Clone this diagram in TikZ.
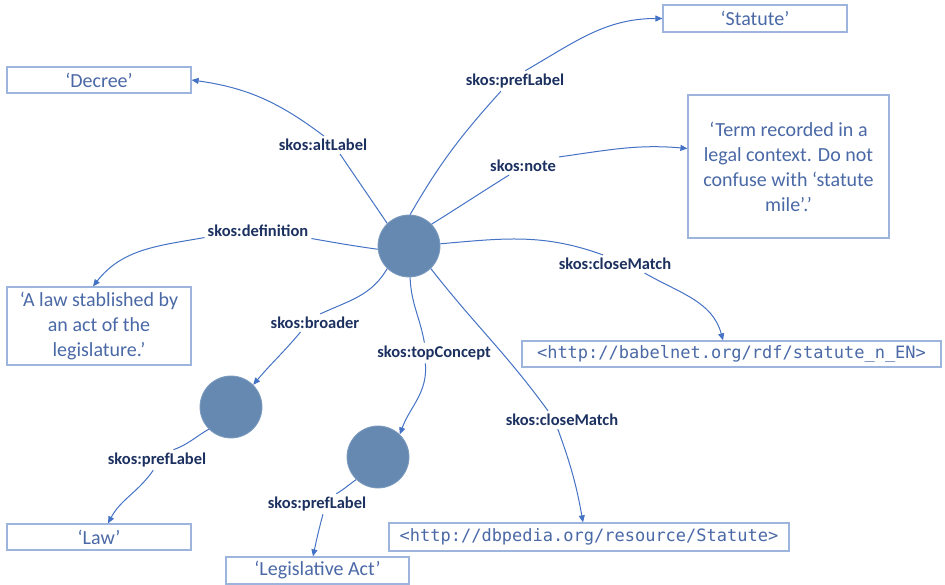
\documentclass[tikz,border=0pt]{standalone}
\usepackage{fontspec}
\setmainfont{Carlito}
\newfontfamily\monofont{DejaVu Sans Mono}
\usetikzlibrary{arrows.meta}
\definecolor{edgec}{HTML}{4472C4}
\definecolor{boxc}{HTML}{9DB5DD}
\definecolor{boxtxt}{HTML}{4A69A6}
\definecolor{lbltxt}{HTML}{1C3160}
\definecolor{circfill}{HTML}{6689B2}
\tikzset{
  circ/.style={circle, fill=circfill, draw=circfill!85!white, line width=0.8pt, minimum size=62pt, inner sep=0pt},
  valbox/.style={draw=boxc, line width=1.2pt, fill=white, text=boxtxt, inner sep=0pt, align=center,
    font=\fontsize{20}{25}\selectfont},
  urlbox/.style={valbox, font=\monofont\fontsize{17}{20}\selectfont},
  lbl/.style={text=lbltxt, font=\bfseries\fontsize{16.5}{19}\selectfont, inner sep=3pt},
  edge/.style={draw=edgec, line width=1pt},
  arr/.style={edge, -{Triangle[length=7pt,width=6pt]}}
}
\begin{document}
\begin{tikzpicture}[x=1pt,y=1pt]
\useasboundingbox (0,0) rectangle (945,585);
% concept nodes
\node[circ] (c) at (409,339) {};
\node[circ] (c2) at (231,178) {};
\node[circ] (c3) at (378,128) {};
% value boxes
\node[valbox, minimum width=184pt, minimum height=26pt] (decree) at (99,505) {‘Decree’};
\node[valbox, minimum width=184pt, minimum height=27pt] (statute) at (755,566.5) {‘Statute’};
\node[valbox, minimum width=201pt, minimum height=143pt] (note) at (788.5,418.5) {‘Term recorded in a\\legal context. Do not\\confuse with ‘statute\\mile’.’};
\node[valbox, minimum width=184pt, minimum height=78pt] (def) at (99,259) {‘A law stablished by\\an act of the\\legislature.’};
\node[valbox, minimum width=184pt, minimum height=26pt] (law) at (99,48) {‘Law’};
\node[valbox, minimum width=183pt, minimum height=27pt] (legis) at (317.5,14.5) {‘Legislative Act’};
\node[urlbox, minimum width=419pt, minimum height=26pt] (babel) at (731.5,231) {<http://babelnet.org/rdf/statute\_n\_EN>};
\node[urlbox, minimum width=400pt, minimum height=28pt] (dbp) at (589,48) {<http://dbpedia.org/resource/Statute>};
% edge labels
\node[lbl] (lalt) at (323,440) {skos:altLabel};
\node[lbl] (lpref) at (515,504) {skos:prefLabel};
\node[lbl] (lnote) at (523,419) {skos:note};
\node[lbl] (ldef) at (258,354) {skos:definition};
\node[lbl] (lcm1) at (615,321) {skos:closeMatch};
\node[lbl] (lbroad) at (315,262) {skos:broader};
\node[lbl] (ltop) at (434,232) {skos:topConcept};
\node[lbl] (lcm2) at (562,165) {skos:closeMatch};
\node[lbl] (lplaw) at (157,125) {skos:prefLabel};
\node[lbl] (lpleg) at (317,81) {skos:prefLabel};
% edges
\draw[edge] (c.134) to[out=124,in=-56] (lalt.-28);
\draw[arr] (lalt.85) to[out=143,in=-8] (decree.east);
\draw[edge] (c.88) to[out=60,in=228] (lpref.-144);
\draw[arr] (lpref.45) to[out=30,in=180] (statute.west);
\draw[edge] (c.44) to[out=32,in=212] (lnote.-147);
\draw[arr] (lnote.north east) to[out=8,in=175] ([yshift=18pt]note.west);
\draw[edge] (c.186) to[out=172,in=-10] (ldef.-8);
\draw[arr] (ldef.-173) to[out=190,in=52] ([xshift=-6pt]def.north);
\draw[edge] (c.4) to[out=5,in=160] (lcm1.143);
\draw[arr] (lcm1.-17) to[out=-30,in=105] ([xshift=-8.5pt]babel.north);
\draw[edge] (c.226) to[out=240,in=25] (lbroad.60);
\draw[arr] (lbroad.-148) to[out=230,in=50] (c2.45);
\draw[edge] (c.-88) to[out=-88,in=100] (ltop.133);
\draw[arr] (ltop.-130) to[out=-85,in=70] (c3.46);
\draw[edge] (c.-46) to[out=-52,in=126] (lcm2.147);
\draw[arr] (lcm2.-115) to[out=-70,in=100] ([xshift=-6pt]dbp.north);
\draw[edge] (c2.-135) to[out=-150,in=20] (lplaw.32);
\draw[arr] (lplaw.-110) to[out=-125,in=62] ([xshift=9pt]law.north);
\draw[edge] (c3.-134) to[out=-145,in=30] (lpleg.28);
\draw[arr] (lpleg.-60) to[out=-105,in=78] ([xshift=-4.5pt]legis.north);
\end{tikzpicture}
\end{document}
